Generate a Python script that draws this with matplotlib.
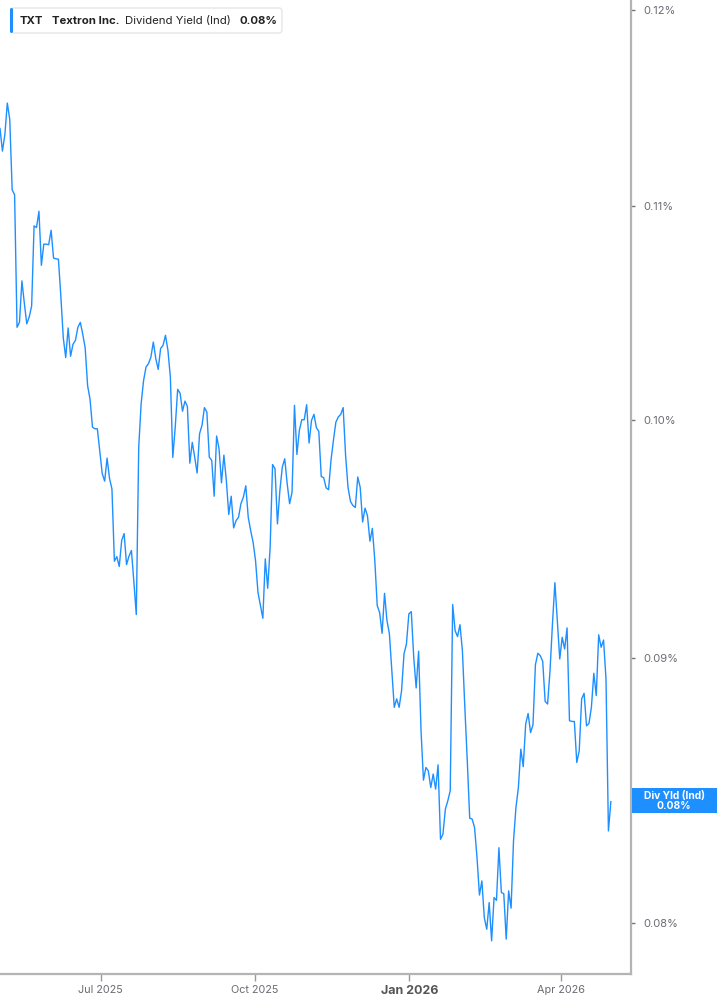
import matplotlib
matplotlib.use("Agg")
import matplotlib.pyplot as plt
import matplotlib.ticker as mticker
from matplotlib.patches import FancyBboxPatch, Rectangle
import pandas as pd

# dividend yield (ind), %, one value per trading day
yld = [
    0.11384, 0.11270, 0.11353, 0.11513, 0.11431, 0.11078, 0.11053, 0.10422, 0.10445, 0.10639,
    0.10534, 0.10438, 0.10470, 0.10521, 0.10902, 0.10894, 0.10973, 0.10713, 0.10814, 0.10814,
    0.10811, 0.10881, 0.10747, 0.10744, 0.10742, 0.10567, 0.10374, 0.10283, 0.10419, 0.10289,
    0.10344, 0.10362, 0.10422, 0.10445, 0.10390, 0.10327, 0.10155, 0.10094, 0.09970, 0.09963,
    0.09963, 0.09864, 0.09767, 0.09734, 0.09834, 0.09746, 0.09700, 0.09394, 0.09413, 0.09372,
    0.09481, 0.09510, 0.09380, 0.09415, 0.09439, 0.09309, 0.09174, 0.09882, 0.10076, 0.10179,
    0.10240, 0.10255, 0.10285, 0.10354, 0.10279, 0.10229, 0.10325, 0.10339, 0.10385, 0.10316,
    0.10194, 0.09837, 0.09970, 0.10139, 0.10121, 0.10041, 0.10086, 0.10062, 0.09812, 0.09903,
    0.09838, 0.09769, 0.09941, 0.09978, 0.10057, 0.10037, 0.09838, 0.09824, 0.09669, 0.09931,
    0.09875, 0.09727, 0.09847, 0.09737, 0.09591, 0.09669, 0.09534, 0.09565, 0.09579, 0.09637,
    0.09665, 0.09714, 0.09579, 0.09523, 0.09473, 0.09397, 0.09265, 0.09211, 0.09159, 0.09404,
    0.09282, 0.09452, 0.09806, 0.09788, 0.09551, 0.09694, 0.09795, 0.09831, 0.09723, 0.09637,
    0.09686, 0.10067, 0.09850, 0.09956, 0.10003, 0.10003, 0.10070, 0.09900, 0.10000, 0.10027,
    0.09968, 0.09951, 0.09754, 0.09749, 0.09705, 0.09697, 0.09824, 0.09912, 0.09992, 0.10015,
    0.10027, 0.10057, 0.09846, 0.09707, 0.09647, 0.09629, 0.09621, 0.09752, 0.09707, 0.09559,
    0.09618, 0.09585, 0.09478, 0.09532, 0.09398, 0.09211, 0.09182, 0.09098, 0.09261, 0.09150,
    0.09096, 0.08948, 0.08804, 0.08837, 0.08804, 0.08869, 0.09015, 0.09055, 0.09177, 0.09186,
    0.09001, 0.08880, 0.09026, 0.08713, 0.08524, 0.08572, 0.08559, 0.08496, 0.08547, 0.08490,
    0.08582, 0.08303, 0.08322, 0.08415, 0.08446, 0.08484, 0.09215, 0.09109, 0.09085, 0.09133,
    0.09028, 0.08804, 0.08598, 0.08381, 0.08378, 0.08346, 0.08236, 0.08100, 0.08151, 0.08019,
    0.07978, 0.08073, 0.07937, 0.08091, 0.08081, 0.08272, 0.08109, 0.08105, 0.07943, 0.08115,
    0.08053, 0.08297, 0.08421, 0.08496, 0.08642, 0.08575, 0.08739, 0.08780, 0.08706, 0.08736,
    0.08972, 0.09018, 0.09008, 0.08985, 0.08827, 0.08817, 0.08948, 0.09136, 0.09305, 0.09150,
    0.08995, 0.09082, 0.09035, 0.09120, 0.08752, 0.08749, 0.08749, 0.08591, 0.08636, 0.08837,
    0.08859, 0.08732, 0.08741, 0.08804, 0.08938, 0.08850, 0.09092, 0.09042, 0.09071, 0.08915,
    0.08334, 0.08443,
]
dates = pd.date_range("2025-05-02", "2026-05-01", periods=len(yld))

ytick_vals = [0.08, 0.09, 0.10, 0.11, 0.12]
ytick_labels = ["0.08%", "0.09%", "0.10%", "0.11%", "0.12%"]
xtick_dates = pd.to_datetime(["2025-07-01", "2025-10-01", "2026-01-01", "2026-04-01"])
xtick_labels = ["Jul 2025", "Oct 2025", "Jan 2026", "Apr 2026"]

ticker = "TXT"
company = "Textron Inc."
metric = "Dividend Yield (Ind)"
last_txt = "0.08%"

blue = "#1e8fff"
axis_gray = "#b4b4b4"
label_gray = "#6b6b73"
W, H = 717, 1005

plt.rcParams["font.family"] = ["Inter", "DejaVu Sans"]
fig = plt.figure(figsize=(W / 100, H / 100), dpi=100)
ax = fig.add_axes([0, 1 - 974 / H, 631 / W, 974 / H])

ax.plot(dates, yld, color=blue, lw=1.0)

ax.set_yscale("log")
ax.set_ylim(0.07821, 0.12052)
ax.set_xlim(pd.Timestamp("2025-05-02"), pd.Timestamp("2026-05-13"))

ax.yaxis.tick_right()
ax.yaxis.set_major_locator(mticker.FixedLocator(ytick_vals))
ax.yaxis.set_major_formatter(mticker.FixedFormatter(ytick_labels))
ax.yaxis.set_minor_locator(mticker.NullLocator())
ax.tick_params(axis="y", which="major", length=3, width=1, color="#777777",
               labelsize=8, labelcolor=label_gray, pad=6)

ax.set_xticks(xtick_dates)
ax.set_xticklabels(xtick_labels)
ax.tick_params(axis="x", length=5, width=1, color="#999999",
               labelsize=7.8, labelcolor=label_gray, pad=3)
for lab in ax.get_xticklabels():
    if lab.get_text().startswith("Jan"):
        lab.set_fontweight("bold")
        lab.set_fontsize(9)
        lab.set_color("#555555")

for s in ["top", "left"]:
    ax.spines[s].set_visible(False)
for s in ["right", "bottom"]:
    ax.spines[s].set_color(axis_gray)
    ax.spines[s].set_linewidth(1.6)

# overlay in pixel coordinates for the legend box and end label
ov = fig.add_axes([0, 0, 1, 1], facecolor="none")
ov.set_xlim(0, W)
ov.set_ylim(H, 0)
ov.axis("off")

ov.add_patch(FancyBboxPatch((11, 8), 271, 25, boxstyle="round,pad=0,rounding_size=3",
                            fc="white", ec="#e6e6e6", lw=1))
ov.add_patch(FancyBboxPatch((10, 8), 3, 25, boxstyle="round,pad=0,rounding_size=1.5",
                            fc=blue, ec="none"))
ov.text(20, 20.5, ticker, fontsize=8.2, fontweight="bold", color="#222222", va="center")
ov.text(52, 20.5, company, fontsize=8.2, fontweight="bold", color="#222222", va="center")
ov.text(125, 20.5, metric, fontsize=8.2, color="#222222", va="center")
ov.text(240, 20.5, last_txt, fontsize=8.2, fontweight="bold", color="#222222", va="center")

ov.add_patch(Rectangle((632, 788), 85, 25, fc=blue, ec="none"))
ov.text(674, 795.5, "Div Yld (Ind)", fontsize=7.4, fontweight="bold", color="white",
        ha="center", va="center")
ov.text(674, 806, last_txt, fontsize=7.4, fontweight="bold", color="white",
        ha="center", va="center")

fig.savefig("out.png", dpi=100)
